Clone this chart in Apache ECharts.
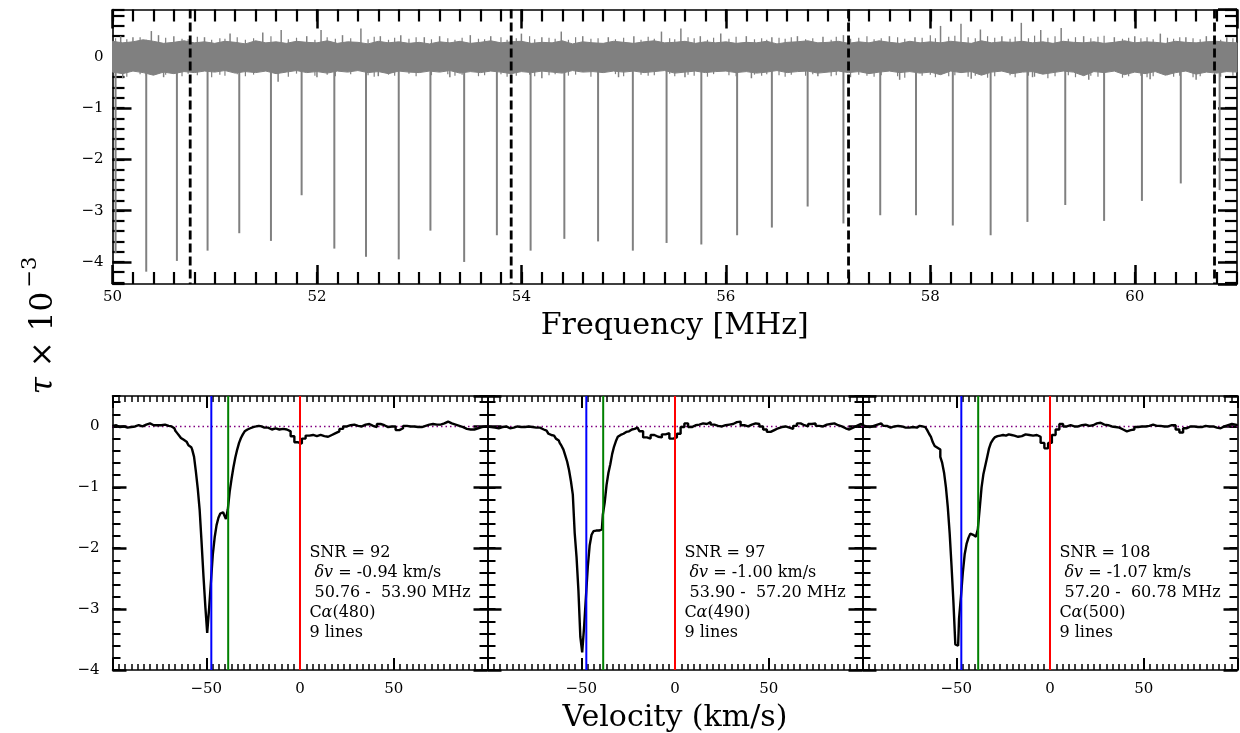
<!DOCTYPE html>
<html>
<head>
<meta charset="utf-8">
<script src="https://cdn.jsdelivr.net/npm/echarts@6/dist/echarts.min.js"></script>
<style>
  html, body { margin: 0; padding: 0; background: #fff; }
  #chart { width: 1240px; height: 733px; }
</style>
</head>
<body>
<div id="chart"></div>
<script>
// ---------------- spectrum (upper panel) ----------------
const freqMin = 50, freqMax = 61;
const bandStart = 50.0, bandStep = 0.1;
// upper / lower edge of the noise band, one value per 0.1 MHz
const bandUpper = [
  0.30,0.27,0.29,0.33,0.30,0.26,0.28,0.31,0.27,0.29,
  0.26,0.30,0.28,0.25,0.31,0.27,0.29,0.26,0.30,0.28,
  0.27,0.31,0.26,0.29,0.28,0.25,0.30,0.27,0.29,0.26,
  0.28,0.25,0.29,0.27,0.30,0.26,0.28,0.31,0.27,0.29,
  0.30,0.26,0.28,0.27,0.31,0.25,0.29,0.27,0.26,0.30,
  0.28,0.26,0.29,0.31,0.27,0.28,0.30,0.26,0.29,0.27,
  0.29,0.26,0.28,0.27,0.30,0.25,0.28,0.29,0.31,0.27,
  0.28,0.30,0.26,0.29,0.27,0.31,0.28,0.26,0.30,0.27,
  0.29,0.27,0.30,0.28,0.26,0.31,0.27,0.29,0.28,0.30,
  0.27,0.29,0.26,0.30,0.28,0.27,0.29,0.26,0.28,0.31,
  0.27,0.29,0.28,0.26,0.30,0.28,0.27,0.29,0.30,0.28,
  0.27
];
const bandLower = [
  -0.30,-0.33,-0.28,-0.31,-0.36,-0.30,-0.33,-0.29,-0.31,-0.28,
  -0.30,-0.27,-0.32,-0.29,-0.31,-0.28,-0.33,-0.30,-0.27,-0.31,
  -0.29,-0.32,-0.28,-0.30,-0.27,-0.31,-0.29,-0.33,-0.28,-0.30,
  -0.31,-0.28,-0.30,-0.27,-0.32,-0.29,-0.31,-0.28,-0.30,-0.33,
  -0.29,-0.31,-0.28,-0.30,-0.32,-0.27,-0.30,-0.29,-0.31,-0.28,
  -0.30,-0.28,-0.31,-0.29,-0.27,-0.32,-0.30,-0.28,-0.31,-0.29,
  -0.28,-0.31,-0.29,-0.32,-0.30,-0.27,-0.31,-0.29,-0.28,-0.32,
  -0.30,-0.28,-0.31,-0.29,-0.33,-0.30,-0.28,-0.31,-0.29,-0.32,
  -0.30,-0.35,-0.28,-0.31,-0.29,-0.36,-0.30,-0.28,-0.33,-0.30,
  -0.29,-0.34,-0.31,-0.28,-0.30,-0.37,-0.29,-0.31,-0.28,-0.35,
  -0.30,-0.33,-0.29,-0.36,-0.31,-0.28,-0.34,-0.30,-0.32,-0.29,
  -0.30
];
// fine comb of noise peaks along both band edges
const fineFreq = [
  50.03,50.14,50.27,50.33,50.52,50.68,50.74,50.83,50.97,51.05,
  51.10,51.22,51.30,51.38,51.55,51.72,51.80,51.98,52.10,52.18,
  52.33,52.50,52.56,52.70,52.76,52.90,52.97,53.12,53.28,53.35,
  53.42,53.58,53.64,53.80,53.86,53.95,54.08,54.13,54.27,54.33,
  54.46,54.53,54.68,54.75,54.92,55.00,55.17,55.24,55.30,55.45,
  55.50,55.63,55.69,55.82,55.88,56.03,56.10,56.28,56.35,56.40,
  56.52,56.58,56.64,56.78,56.85,57.03,57.08,57.22,57.30,57.38,
  57.45,57.52,57.68,57.75,57.92,58.00,58.05,58.18,58.24,58.37,
  58.44,58.56,58.63,58.78,58.83,58.96,59.02,59.15,59.22,59.35,
  59.42,59.57,59.64,59.70,59.88,59.94,60.06,60.12,60.18,60.32,
  60.38,60.44,60.57,60.64,60.78,60.84,60.96
];
const fineHigh = [
  0.36,0.34,0.38,0.33,0.37,0.35,0.34,0.39,0.33,0.36,
  0.35,0.38,0.33,0.36,0.40,0.34,0.37,0.33,0.38,0.35,
  0.36,0.34,0.39,0.33,0.37,0.35,0.38,0.34,0.36,0.33,
  0.37,0.35,0.34,0.38,0.33,0.36,0.40,0.34,0.37,0.35,
  0.33,0.38,0.35,0.36,0.34,0.37,0.33,0.39,0.35,0.36,
  0.34,0.38,0.36,0.33,0.37,0.35,0.39,0.34,0.36,0.33,
  0.37,0.35,0.38,0.34,0.36,0.33,0.39,0.35,0.37,0.40,
  0.34,0.36,0.38,0.35,0.37,0.42,0.36,0.39,0.41,0.38,
  0.36,0.40,0.37,0.35,0.39,0.36,0.41,0.37,0.40,0.35,
  0.38,0.36,0.39,0.41,0.35,0.37,0.36,0.38,0.34,0.37,
  0.35,0.38,0.36,0.34,0.37,0.33,0.36
];
const fineLow = [
  -0.36,-0.39,-0.34,-0.37,-0.35,-0.38,-0.33,-0.36,-0.40,-0.35,
  -0.37,-0.34,-0.38,-0.35,-0.36,-0.39,-0.33,-0.37,-0.35,-0.38,
  -0.34,-0.36,-0.39,-0.35,-0.37,-0.33,-0.38,-0.36,-0.34,-0.37,
  -0.35,-0.38,-0.36,-0.34,-0.39,-0.37,-0.35,-0.38,-0.36,-0.34,
  -0.37,-0.35,-0.39,-0.36,-0.34,-0.38,-0.35,-0.37,-0.36,-0.33,
  -0.38,-0.35,-0.37,-0.39,-0.34,-0.36,-0.38,-0.35,-0.37,-0.34,
  -0.36,-0.39,-0.35,-0.37,-0.34,-0.38,-0.36,-0.40,-0.35,-0.37,
  -0.39,-0.36,-0.38,-0.41,-0.37,-0.35,-0.40,-0.38,-0.36,-0.39,
  -0.37,-0.41,-0.38,-0.36,-0.40,-0.37,-0.39,-0.42,-0.38,-0.36,
  -0.40,-0.37,-0.39,-0.36,-0.41,-0.38,-0.37,-0.40,-0.38,-0.36,
  -0.39,-0.37,-0.40,-0.38,-0.36,-0.39,-0.37
];
// isolated larger noise excursions above and below the band
const spikeUpFreq = [50.08,50.20,50.38,50.45,50.60,50.90,51.15,51.47,51.65,51.90,
  52.04,52.25,52.43,52.62,52.82,53.05,53.20,53.50,53.70,54.00,
  54.20,54.39,54.60,54.85,55.10,55.37,55.56,55.75,55.95,56.20,
  56.45,56.70,56.95,57.15,57.60,57.85,58.10,58.30,58.49,58.70,
  58.89,59.08,59.28,59.50,59.80,60.00,60.25,60.50,60.70,60.90];
const spikeUpVal = [0.40,0.38,0.50,0.42,0.40,0.38,0.45,0.47,0.52,0.40,
  0.52,0.42,0.55,0.40,0.42,0.38,0.40,0.42,0.40,0.45,
  0.38,0.49,0.40,0.38,0.40,0.49,0.55,0.40,0.45,0.40,
  0.38,0.40,0.39,0.42,0.40,0.38,0.60,0.64,0.53,0.40,
  0.66,0.52,0.56,0.40,0.38,0.40,0.45,0.38,0.40,0.38];
const spikeDownFreq = [50.10,50.50,51.62,52.00,52.60,53.30,54.20,54.95,55.60,56.25,56.90,57.70,58.40,59.00,59.55,60.15,60.60];
const spikeDownVal = [-0.42,-0.40,-0.49,-0.40,-0.38,-0.40,-0.42,-0.40,-0.40,-0.42,-0.38,-0.45,-0.43,-0.40,-0.45,-0.44,-0.45];
// carbon recombination absorption lines
const lineFreq = [50.03,50.33,50.63,50.93,51.24,51.55,51.85,52.17,52.48,52.80,53.11,53.44,53.76,
  54.09,54.42,54.75,55.09,55.42,55.76,56.11,56.45,56.80,57.15,
  57.51,57.86,58.22,58.59,58.95,59.32,59.70,60.07,60.45,60.83];
const lineDepth = [-3.83,-4.19,-3.98,-3.78,-3.44,-3.59,-2.70,-3.74,-3.90,-3.95,-3.39,-4.00,-3.48,
  -3.78,-3.55,-3.60,-3.78,-3.63,-3.66,-3.48,-3.33,-2.92,-3.25,
  -3.09,-3.09,-3.29,-3.48,-3.22,-2.89,-3.20,-2.81,-2.47,-2.60];
// frequency ranges that were stacked
const rangeEdges = [50.76, 53.90, 57.20, 60.78];

// ---------------- stacked profiles (lower panels) ----------------
const velocity = [];
for (let v = -100; v <= -72; v += 2) velocity.push(v);
for (let v = -70; v <= -20; v += 1) velocity.push(v);
for (let v = -18; v <= 100; v += 2) velocity.push(v);

const profA = [
  0.01,0.02,-0.01,0.0,-0.02,-0.01,0.0,0.02,0.0,0.03,0.05,0.02,0.02,0.02,0.03,
  0.01,0.0,-0.01,-0.03,-0.07,-0.11,-0.15,-0.19,-0.22,-0.25,
  -0.28,-0.31,-0.34,-0.38,-0.5,-0.75,-1.03,-1.38,-1.9,-2.45,
  -2.95,-3.39,-3.0,-2.55,-2.1,-1.82,-1.62,-1.5,-1.43,-1.41,
  -1.45,-1.52,-1.36,-1.07,-0.86,-0.67,-0.51,-0.38,-0.27,-0.19,
  -0.13,-0.08,-0.05,-0.03,-0.02,-0.01,0.0,-0.01,0.01,0.0,
  -0.02,
  -0.02,-0.05,-0.03,-0.05,-0.04,-0.05,-0.08,-0.16,-0.26,-0.28,
  -0.2,-0.15,-0.14,-0.16,-0.14,-0.16,-0.17,-0.14,-0.11,-0.08,
  -0.04,0.0,0.02,0.03,0.01,0.0,0.03,0.04,0.01,-0.01,
  0.04,0.02,-0.01,0.0,0.0,-0.06,-0.03,0.01,0.0,0.0,
  -0.01,-0.01,0.01,0.03,0.04,0.03,0.03,0.05,0.08,0.05,
  0.03,0.01,-0.01,-0.04,-0.05,-0.05,-0.03,-0.01,0.0,0.0
];
const profB = [
  0.0,-0.01,-0.02,-0.03,-0.01,0.0,-0.03,-0.02,0.0,-0.01,-0.01,0.0,-0.01,-0.02,-0.02,
  -0.05,-0.07,-0.1,-0.12,-0.14,-0.15,-0.16,-0.2,-0.23,-0.27,
  -0.32,-0.38,-0.48,-0.58,-0.72,-0.9,-1.12,-1.75,-2.15,-2.7,
  -3.45,-3.71,-3.3,-2.8,-2.3,-1.95,-1.78,-1.72,-1.71,-1.71,
  -1.71,-1.69,-1.45,-1.25,-0.96,-0.76,-0.62,-0.45,-0.33,-0.24,
  -0.17,-0.14,-0.12,-0.1,-0.09,-0.08,-0.07,-0.05,-0.04,-0.03,
  -0.02,
  -0.08,-0.18,-0.2,-0.14,-0.17,-0.18,-0.13,-0.11,-0.2,-0.18,
  -0.12,-0.01,0.05,-0.01,0.02,0.03,0.05,0.04,0.07,0.03,
  0.01,0.0,0.02,0.03,0.04,0.07,0.08,0.02,0.0,0.03,
  0.05,0.04,0.0,-0.05,-0.09,-0.06,-0.03,-0.01,0.0,-0.02,
  -0.04,0.01,0.05,0.02,0.0,0.04,0.05,0.01,0.0,0.03,
  0.04,0.05,0.02,0.0,-0.03,-0.05,-0.02,0.01,0.04,0.03
];
const profC = [
  0.02,0.0,-0.01,0.01,0.03,0.05,0.01,-0.02,0.0,0.01,0.0,-0.02,-0.02,-0.01,-0.02,
  0.01,0.0,0.0,-0.01,-0.03,-0.06,-0.12,-0.17,-0.26,-0.32,
  -0.35,-0.38,-0.5,-0.6,-0.76,-1.0,-1.33,-1.76,-2.3,-2.89,
  -3.58,-3.6,-3.15,-2.8,-2.4,-2.1,-1.93,-1.83,-1.76,-1.78,
  -1.81,-1.8,-1.69,-1.35,-1.0,-0.78,-0.64,-0.5,-0.36,-0.27,
  -0.22,-0.18,-0.16,-0.15,-0.15,-0.14,-0.15,-0.14,-0.13,-0.14,
  -0.15,
  -0.17,-0.16,-0.13,-0.14,-0.15,-0.14,-0.17,-0.27,-0.36,-0.27,
  -0.14,-0.05,0.04,0.0,0.02,0.0,0.0,0.02,0.03,0.01,
  0.02,0.05,0.06,0.03,0.02,0.0,-0.01,-0.02,-0.05,-0.08,
  -0.06,-0.05,-0.01,0.0,0.0,0.01,0.03,0.01,0.01,0.0,
  0.0,0.02,0.02,-0.05,-0.1,-0.03,0.0,0.0,-0.01,-0.01,
  0.01,0.0,0.0,-0.02,-0.03,0.0,0.02,0.04,0.03,0.01
];
const profiles = [profA, profB, profC];
const markerVel = [-47.3, -38.3, 0];
const snr = [92, 97, 108];
const deltaV = ['-0.94', '-1.00', '-1.07'];
const transition = [480, 490, 500];
const nLines = [9, 9, 9];

// ---------------- styling ----------------
const FONT = "'DejaVu Serif', 'Liberation Serif', serif";
const GREY = '#808080';
const markerColors = ['#0000ff', '#008000', '#ff0000'];
const TOP_RECT = { left: 112.5, top: 9.5, width: 1124.5, height: 274.5 };
const PANEL_LEFT = [112.5, 487.5, 862.5];
const PANEL_TOP = 396, PANEL_W = 375, PANEL_H = 274;
const NOTE_ANCHOR = [5, -1.91];

const minus = v => String(v).replace('-', '\u2212');
const frame = { show: true, onZero: false, lineStyle: { color: '#000', width: 1.6 } };
const ticks = (len, w) => ({ show: true, inside: true, length: len, lineStyle: { color: '#000', width: w } });
const labels = (margin, showMin, showMax) => ({
  show: true, color: '#000', fontFamily: FONT, fontSize: 15, margin,
  showMinLabel: showMin, showMaxLabel: showMax, formatter: minus
});

const grid = [], xAxis = [], yAxis = [], series = [];
function addGrid(r) { grid.push(Object.assign({ outerBoundsMode: 'none', containLabel: false }, r)); return grid.length - 1; }
function addX(o) { xAxis.push(Object.assign({ type: 'value', splitLine: { show: false }, axisLine: { show: false, onZero: false }, axisLabel: { show: false } }, o)); return xAxis.length - 1; }
function addY(o) { yAxis.push(Object.assign({ type: 'value', splitLine: { show: false }, axisLine: { show: false, onZero: false }, axisLabel: { show: false } }, o)); return yAxis.length - 1; }

// vertical segment between two y values at one x
function segment(color, width) {
  return function (params, api) {
    const a = api.coord([api.value(0), api.value(1)]);
    const b = api.coord([api.value(0), api.value(2)]);
    return { type: 'line', shape: { x1: a[0], y1: a[1], x2: b[0], y2: b[1] },
      style: { stroke: color, lineWidth: width } };
  };
}
// vertical line spanning the whole plotting area
function fullHeight(colors, width, dash) {
  return function (params, api) {
    const cs = params.coordSys;
    const px = api.coord([api.value(0), api.value(1)])[0];
    return { type: 'line', shape: { x1: px, y1: cs.y, x2: px, y2: cs.y + cs.height },
      style: { stroke: colors[params.dataIndex % colors.length], lineWidth: width, lineDash: dash || null } };
  };
}
// horizontal line spanning the whole plotting area
function fullWidth(color, width, dash) {
  return function (params, api) {
    const cs = params.coordSys;
    const py = api.coord([api.value(0), api.value(1)])[1];
    return { type: 'line', shape: { x1: cs.x, y1: py, x2: cs.x + cs.width, y2: py },
      style: { stroke: color, lineWidth: width, lineDash: dash } };
  };
}
// filled noise band between the upper and lower edge arrays
function noiseBand(params, api) {
  const pts = [];
  bandUpper.forEach((v, i) => pts.push(api.coord([bandStart + i * bandStep, v])));
  for (let i = bandLower.length - 1; i >= 0; i--) pts.push(api.coord([bandStart + i * bandStep, bandLower[i]]));
  return { type: 'polygon', shape: { points: pts }, style: { fill: GREY, stroke: GREY, lineWidth: 1 } };
}

// ---- upper panel ----
const gTop = addGrid(TOP_RECT);
const gTopMinor = addGrid(TOP_RECT);
const xTop = addX({ gridIndex: gTop, position: 'bottom', min: freqMin, max: freqMax, interval: 2,
  axisLine: frame, axisTick: ticks(19, 2.5), axisLabel: labels(6, true, false),
  name: 'Frequency [MHz]', nameLocation: 'middle', nameGap: 27,
  nameTextStyle: { fontFamily: FONT, fontSize: 30, color: '#000' } });
addX({ gridIndex: gTop, position: 'top', min: freqMin, max: freqMax, interval: 2, axisLine: frame, axisTick: ticks(19, 2.5) });
const yTop = addY({ gridIndex: gTop, position: 'left', min: -4.43, max: 0.92, minInterval: 1, maxInterval: 1,
  axisLine: frame, axisTick: ticks(19, 2.5), axisLabel: labels(9, false, false) });
addY({ gridIndex: gTop, position: 'right', min: -4.43, max: 0.92, minInterval: 1, maxInterval: 1, axisLine: frame, axisTick: ticks(19, 2.5) });
addX({ gridIndex: gTopMinor, position: 'bottom', min: freqMin, max: freqMax, interval: 0.2, axisTick: ticks(12, 2.2) });
addX({ gridIndex: gTopMinor, position: 'top', min: freqMin, max: freqMax, interval: 0.2, axisTick: ticks(12, 2.2) });
addY({ gridIndex: gTopMinor, position: 'left', min: -4.43, max: 0.92, minInterval: 0.2, maxInterval: 0.2, axisTick: ticks(12, 2.2) });
addY({ gridIndex: gTopMinor, position: 'right', min: -4.43, max: 0.92, minInterval: 0.2, maxInterval: 0.2, axisTick: ticks(12, 2.2) });

series.push({ type: 'custom', xAxisIndex: xTop, yAxisIndex: yTop, z: 2, silent: true,
  data: [[freqMin, 0]], renderItem: noiseBand });
series.push({ type: 'custom', xAxisIndex: xTop, yAxisIndex: yTop, z: 2, silent: true,
  data: fineFreq.map((f, i) => [f, fineLow[i], fineHigh[i]]), renderItem: segment(GREY, 1.2) });
series.push({ type: 'custom', xAxisIndex: xTop, yAxisIndex: yTop, z: 2, silent: true,
  data: spikeUpFreq.map((f, i) => [f, 0, spikeUpVal[i]]), renderItem: segment(GREY, 1.5) });
series.push({ type: 'custom', xAxisIndex: xTop, yAxisIndex: yTop, z: 2, silent: true,
  data: spikeDownFreq.map((f, i) => [f, 0, spikeDownVal[i]]), renderItem: segment(GREY, 1.5) });
series.push({ type: 'custom', xAxisIndex: xTop, yAxisIndex: yTop, z: 3, silent: true,
  data: lineFreq.map((f, i) => [f, 0, lineDepth[i]]), renderItem: segment(GREY, 2) });
series.push({ type: 'custom', xAxisIndex: xTop, yAxisIndex: yTop, z: 4, silent: true,
  data: rangeEdges.map(f => [f, 0]), renderItem: fullHeight(['#000'], 2.8, [9, 4]) });

// ---- lower panels ----
const noteRich = {
  n: { fontFamily: FONT, fontSize: 16, lineHeight: 20 },
  i: { fontFamily: FONT, fontSize: 16, lineHeight: 20, fontStyle: 'italic' }
};
PANEL_LEFT.forEach((left, p) => {
  const rect = { left, top: PANEL_TOP, width: PANEL_W, height: PANEL_H };
  const g = addGrid(rect), gm = addGrid(rect);
  const minorX = { show: true, splitNumber: 15, length: 6, lineStyle: { color: '#000', width: 1.5 } };
  const xb = addX(Object.assign({ gridIndex: g, position: 'bottom', min: -100, max: 100, interval: 50,
    axisLine: frame, axisTick: ticks(12, 2), minorTick: minorX, axisLabel: labels(12, false, false) },
    p === 1 ? { name: 'Velocity (km/s)', nameLocation: 'middle', nameGap: 33,
      nameTextStyle: { fontFamily: FONT, fontSize: 30, color: '#000' } } : {}));
  addX({ gridIndex: g, position: 'top', min: -100, max: 100, interval: 50, axisLine: frame, axisTick: ticks(12, 2), minorTick: minorX });
  const yl = addY({ gridIndex: g, position: 'left', min: -4, max: 0.5, interval: 1, axisLine: frame,
    axisTick: ticks(14, 2.5), axisLabel: p === 0 ? labels(13, true, false) : { show: false } });
  addY({ gridIndex: g, position: 'right', min: -4, max: 0.5, interval: 1, axisLine: frame, axisTick: ticks(14, 2.5) });
  addX({ gridIndex: gm, show: false, min: -100, max: 100 });
  addY({ gridIndex: gm, position: 'left', min: -4, max: 0.5, interval: 0.2, axisTick: ticks(8, 2) });
  addY({ gridIndex: gm, position: 'right', min: -4, max: 0.5, interval: 0.2, axisTick: ticks(8, 2) });

  series.push({ type: 'custom', xAxisIndex: xb, yAxisIndex: yl, z: 1, silent: true,
    data: [[0, 0]], renderItem: fullWidth('#800080', 1.5, [1.5, 3]) });
  series.push({ type: 'line', xAxisIndex: xb, yAxisIndex: yl, step: 'middle', showSymbol: false, silent: true,
    data: velocity.map((v, i) => [v, profiles[p][i]]), lineStyle: { color: '#000', width: 2.4 }, z: 2 });
  series.push({ type: 'custom', xAxisIndex: xb, yAxisIndex: yl, z: 3, silent: true,
    data: markerVel.map(v => [v, 0]), renderItem: fullHeight(markerColors, 2) });

  const note = '{n|SNR = ' + snr[p] + '}\n' +
    '{n| }{i|δv}{n| = ' + deltaV[p] + ' km/s}\n' +
    '{n| ' + rangeEdges[p].toFixed(2) + ' -  ' + rangeEdges[p + 1].toFixed(2) + ' MHz}\n' +
    '{n|C}{i|α}{n|(' + transition[p] + ')}\n' +
    '{n|' + nLines[p] + ' lines}';
  series.push({ type: 'custom', xAxisIndex: xb, yAxisIndex: yl, z: 5, silent: true,
    data: [NOTE_ANCHOR],
    renderItem: function (params, api) {
      const pt = api.coord([api.value(0), api.value(1)]);
      return { type: 'text', x: pt[0], y: pt[1],
        style: { text: note, rich: noteRich, fill: '#000', fontFamily: FONT, fontSize: 16,
          lineHeight: 20, align: 'left', verticalAlign: 'top' } };
    } });
});

const chart = echarts.init(document.getElementById('chart'), null, { renderer: 'canvas' });
chart.setOption({
  animation: false,
  backgroundColor: '#fff',
  grid, xAxis, yAxis, series,
  graphic: [
    { type: 'text', x: 44, y: 343, rotation: Math.PI / 2,
      style: { text: '{i|τ}{n| × 10}', fill: '#000', align: 'center', verticalAlign: 'middle',
        rich: { i: { fontFamily: FONT, fontSize: 31, fontStyle: 'italic' }, n: { fontFamily: FONT, fontSize: 31 } } } },
    { type: 'text', x: 31, y: 272, rotation: Math.PI / 2,
      style: { text: '\u22123', fill: '#000', fontFamily: FONT, fontSize: 21, align: 'center', verticalAlign: 'middle' } }
  ]
});
</script>
</body>
</html>
